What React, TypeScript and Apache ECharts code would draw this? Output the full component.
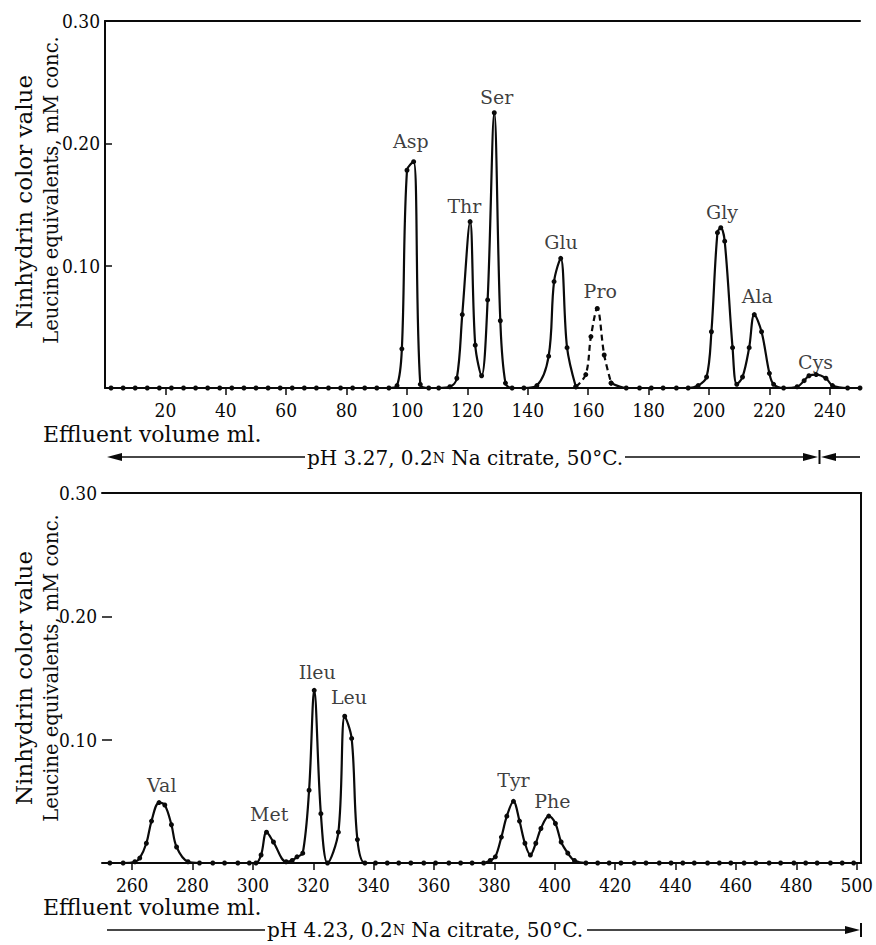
import React, { useEffect, useRef } from "react";
import * as echarts from "echarts";

// ---------- data (effluent volume in ml, ninhydrin colour value in mM leucine equivalents) ----------
// Upper run: pH 3.27, 0.2 N Na citrate, 50°C
const upperVolumesA = [2, 6, 10, 14, 18, 22, 26, 30, 34, 38, 42, 46, 50, 54, 58, 62, 66, 70, 74, 78, 82, 86, 90, 94,
  96.7, 98.3, 100, 102.2, 104.4, 107.2, 110.5, 114.2, 116.5, 118.3, 120.9, 122.6, 124.7, 126.7, 128.9, 130.9, 132.6,
  134.8, 138.7, 143, 146.9, 148.7, 150.9, 153, 155.9];
const upperValuesA = [0, 0, 0, 0, 0, 0, 0, 0, 0, 0, 0, 0, 0, 0, 0, 0, 0, 0, 0, 0, 0, 0, 0, 0,
  0.002, 0.032, 0.178, 0.185, 0.003, 0, 0, 0.001, 0.008, 0.06, 0.136, 0.035, 0.01, 0.072, 0.225, 0.055, 0.004,
  0, 0, 0.002, 0.026, 0.087, 0.106, 0.033, 0.001];
// Proline (dashed in the original)
const prolineVolumes = [155.9, 159.2, 160.9, 163, 165.3, 167.6];
const prolineValues = [0.001, 0.011, 0.042, 0.065, 0.027, 0.004];
const upperVolumesB = [167.6, 172.6, 177, 180.9, 184.8, 189.2, 193.1, 196.4, 199.2, 200.8, 202.8, 203.9, 205.2, 207.8,
  209.2, 211.1, 213.3, 215, 217.4, 220, 221.4, 224.7, 229.2, 231.5, 233.1, 235.5, 238.7, 240.9, 245.9, 250];
const upperValuesB = [0.004, 0, 0, 0, 0, 0, 0, 0.002, 0.009, 0.046, 0.127, 0.131, 0.12, 0.033,
  0.003, 0.009, 0.033, 0.06, 0.046, 0.012, 0.003, 0, 0.001, 0.006, 0.01, 0.011, 0.008, 0.002, 0, 0];

// Lower run: pH 4.23, 0.2 N Na citrate, 50°C
const lowerVolumes = [252.6, 257, 260.9, 262.5, 264.7, 266.4, 268.9, 270.8, 273, 274.7, 278.5, 282.3, 286.7, 290.6,
  295, 298.8, 301, 302.7, 304.5, 306.8, 311, 313, 314.6, 316.5, 318.6, 320.3, 322.5, 324.7, 328.3, 330.4, 332.7,
  334.6, 337.1, 340.6, 344.5, 348.3, 352.3, 356.6, 360.5, 364.9, 368.8, 372.6, 376.4, 378.6, 380.3, 382.3, 384.1,
  386.3, 388.3, 390.1, 391.9, 393.7, 395.4, 398, 400.2, 402.1, 404.3, 406.5, 410.3, 414.2, 418, 421.9, 426.3, 430.2,
  434.6, 438.5, 442.4, 446.2, 450.6, 454.5, 458.3, 462.7, 466.6, 471, 474.8, 479.2, 483.1, 486.9, 491.3, 495.2, 499];
const lowerValues = [0, 0, 0.001, 0.004, 0.016, 0.034, 0.049, 0.047, 0.031, 0.013, 0.001, 0, 0, 0,
  0, 0, 0, 0.0065, 0.025, 0.017, 0.001, 0.002, 0.005, 0.008, 0.059, 0.14, 0.04, 0, 0.025, 0.119, 0.101,
  0.019, 0, 0, 0, 0, 0, 0, 0, 0, 0, 0, 0, 0.002, 0.005, 0.021, 0.038,
  0.05, 0.034, 0.016, 0.0065, 0.016, 0.028, 0.038, 0.032, 0.017, 0.008, 0.002, 0, 0, 0, 0, 0, 0,
  0, 0, 0, 0, 0, 0, 0, 0, 0, 0, 0, 0, 0, 0, 0, 0, 0];

// Peak names and where their labels sit (ml, value)
const upperPeakNames = ["Asp", "Thr", "Ser", "Glu", "Pro", "Gly", "Ala", "Cys"];
const upperPeakX = [101.3, 119, 129.7, 151, 164, 204.3, 216, 235.3];
const upperPeakY = [0.202, 0.149, 0.238, 0.119, 0.079, 0.144, 0.075, 0.021];
const lowerPeakNames = ["Val", "Met", "Ileu", "Leu", "Tyr", "Phe"];
const lowerPeakX = [269.8, 305.4, 321.3, 331.8, 386.3, 399.2];
const lowerPeakY = [0.063, 0.04, 0.155, 0.135, 0.067, 0.05];

// Axis ticks
const upperTicks = [20, 40, 60, 80, 100, 120, 140, 160, 180, 200, 220, 240];
const lowerTicks = [260, 280, 300, 320, 340, 360, 380, 400, 420, 440, 460, 480, 500];
const yTicks = [0.1, 0.2];
const yLabels = [0.1, 0.2, 0.3];

const INK = "#0a0a0a";
const FONT = "'DejaVu Serif', serif";
const NUMFONT = "'DejaVu Serif Condensed', 'DejaVu Serif', serif";

const pairs = (xs: number[], ys: number[]) => xs.map((x, i) => [x, ys[i]]);

function curve(xi: number, yi: number, xs: number[], ys: number[], dashed = false) {
  return {
    type: "line",
    xAxisIndex: xi,
    yAxisIndex: yi,
    data: pairs(xs, ys),
    smooth: 0.35,
    symbol: "circle",
    symbolSize: 5,
    showAllSymbol: true,
    itemStyle: { color: INK },
    lineStyle: { color: INK, width: 2.2, type: dashed ? [6, 4] : "solid" },
    z: 3,
    silent: true,
  };
}

function peakLabels(xi: number, yi: number, names: string[], xs: number[], ys: number[]) {
  return {
    type: "scatter",
    xAxisIndex: xi,
    yAxisIndex: yi,
    symbolSize: 1,
    itemStyle: { color: "rgba(0,0,0,0)" },
    label: { show: true, position: "inside", formatter: "{b}", fontSize: 19, fontFamily: FONT, color: INK },
    data: names.map((n, i) => ({ name: n, value: [xs[i], ys[i]] })),
    silent: true,
    z: 5,
  };
}

function xAxes(grid: number, min: number, max: number, ticks: number[]) {
  return [
    {
      gridIndex: grid, type: "value", min, max, position: "bottom",
      axisLine: { show: true, onZero: false, lineStyle: { color: INK, width: 2 } },
      axisTick: { show: true, length: 7, customValues: ticks, lineStyle: { color: INK, width: 1.5 } },
      axisLabel: { customValues: ticks, margin: 12, fontSize: 19, fontFamily: NUMFONT, color: INK },
      splitLine: { show: false },
    },
    {
      gridIndex: grid, type: "value", min, max, position: "top",
      axisLine: { show: true, onZero: false, lineStyle: { color: INK, width: 2 } },
      axisTick: { show: false }, axisLabel: { show: false }, splitLine: { show: false },
    },
  ];
}

function yAxis(grid: number, showLine: boolean, tickLen: number) {
  return {
    gridIndex: grid, type: "value", min: 0, max: 0.3, interval: 0.1, position: "left",
    axisLine: { show: showLine, onZero: false, lineStyle: { color: INK, width: 2 } },
    axisTick: { show: true, inside: true, length: tickLen, customValues: yTicks, lineStyle: { color: INK, width: 1.5 } },
    axisLabel: {
      customValues: yLabels, margin: 5, fontSize: 19, fontFamily: NUMFONT, color: INK,
      formatter: (v: number) => v.toFixed(2),
    },
    splitLine: { show: false },
  };
}

function vText(x: number, y: number, text: string, size: number) {
  return {
    type: "text", x, y, rotation: Math.PI / 2, silent: true,
    style: {
      text, fill: INK, fontSize: size, fontFamily: FONT,
      align: "center", verticalAlign: "middle", textAlign: "center", textVerticalAlign: "middle",
    },
  };
}

function hText(x: number, y: number, text: string, size: number, rich?: any) {
  return {
    type: "text", x, y, silent: true,
    style: {
      text, fill: INK, fontSize: size, fontFamily: FONT, rich,
      align: "left", verticalAlign: "middle", textAlign: "left", textVerticalAlign: "middle",
    },
  };
}

const seg = (x1: number, y1: number, x2: number, y2: number, w = 1.6) => ({
  type: "line", silent: true, shape: { x1, y1, x2, y2 }, style: { stroke: INK, lineWidth: w },
});
const head = (x: number, y: number, dir: number) => ({
  type: "polygon", silent: true,
  shape: { points: [[x, y], [x - dir * 15, y - 4], [x - dir * 15, y + 4]] },
  style: { fill: INK },
});

export default function App() {
  const ref = useRef<HTMLDivElement>(null);
  useEffect(() => {
    const chart = echarts.init(ref.current as HTMLDivElement, null, { renderer: "svg" });
    const smallN = { s: { fontSize: 14, fontFamily: FONT, fill: INK } };
    chart.setOption({
      animation: false,
      backgroundColor: "#ffffff",
      grid: [
        { left: 105, top: 21, width: 755, height: 367 },
        { left: 102, top: 493, width: 760, height: 370 },
      ],
      xAxis: [...xAxes(0, 0, 250, upperTicks), ...xAxes(1, 250, 501.5, lowerTicks)],
      yAxis: [
        yAxis(0, true, 7),
        yAxis(1, false, 10),
        {
          gridIndex: 1, type: "value", min: 0, max: 0.3, position: "right",
          axisLine: { show: true, onZero: false, lineStyle: { color: INK, width: 2 } },
          axisTick: { show: false }, axisLabel: { show: false }, splitLine: { show: false },
        },
      ],
      series: [
        curve(0, 0, upperVolumesA, upperValuesA),
        curve(0, 0, prolineVolumes, prolineValues, true),
        curve(0, 0, upperVolumesB, upperValuesB),
        curve(2, 1, lowerVolumes, lowerValues),
        peakLabels(0, 0, upperPeakNames, upperPeakX, upperPeakY),
        peakLabels(2, 1, lowerPeakNames, lowerPeakX, lowerPeakY),
      ],
      graphic: [
        vText(24, 202, "Ninhydrin color value", 23),
        vText(51, 190, "Leucine equivalents, mM conc.", 19.5),
        vText(24, 678, "Ninhydrin color value", 23),
        vText(51, 668, "Leucine equivalents, mM conc.", 19.5),
        hText(43, 434, "Effluent volume ml.", 22),
        hText(43, 907, "Effluent volume ml.", 22),
        // upper buffer arrow
        head(107, 457, -1),
        seg(115, 457, 305, 457),
        hText(307, 458, "pH 3.27, 0.2{s|N} Na citrate, 50°C.", 20, smallN),
        seg(625, 457, 812, 457),
        head(818, 457, 1),
        seg(819.5, 450, 819.5, 464, 2),
        head(821, 457, -1),
        seg(830, 457, 860, 457),
        // lower buffer arrow
        seg(107, 930, 265, 930),
        hText(267, 930, "pH 4.23, 0.2{s|N} Na citrate, 50°C.", 20, smallN),
        seg(587, 930, 854, 930),
        head(860, 930, 1),
        seg(861, 923, 861, 937, 2),
      ],
    });
    return () => chart.dispose();
  }, []);
  return (
    <div
      ref={ref}
      style={{ position: "fixed", left: 0, top: 0, width: 876, height: 945, background: "#fff" }}
    />
  );
}
